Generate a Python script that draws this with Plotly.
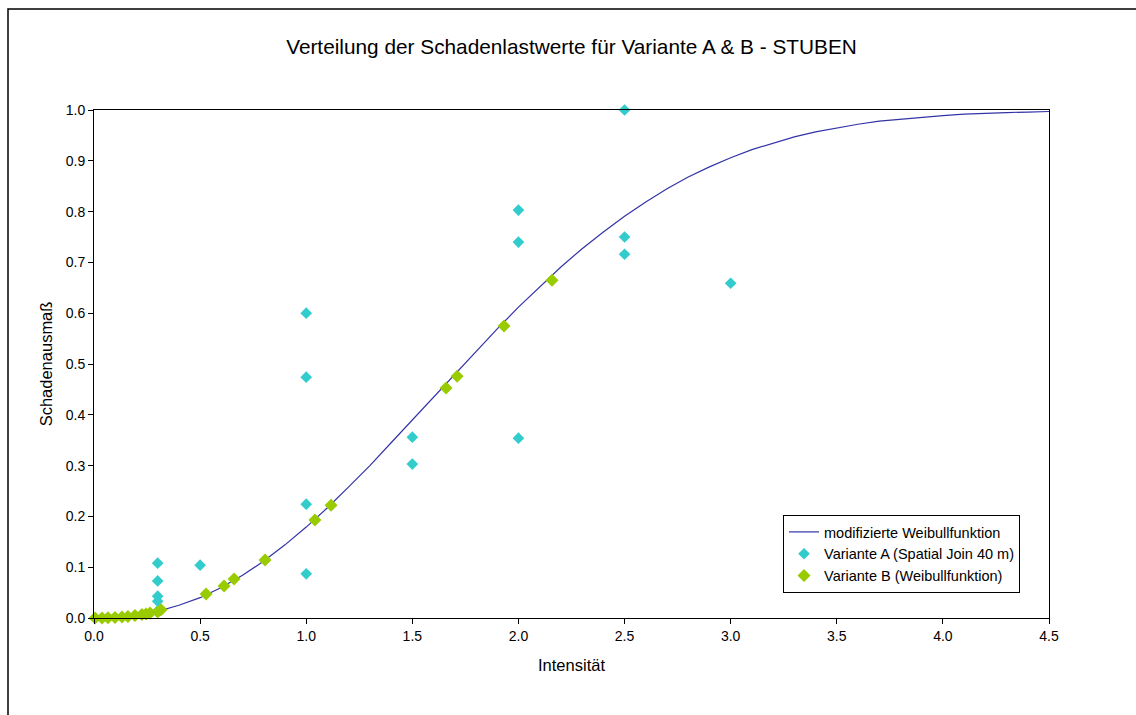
import plotly.graph_objects as go

# --- data ---
curve_x = [0.0, 0.1, 0.2, 0.3, 0.4, 0.5, 0.6, 0.7, 0.8, 0.9, 1.0,
           1.1, 1.2, 1.3, 1.4, 1.5, 1.6, 1.7, 1.8, 1.9, 2.0,
           2.1, 2.2, 2.3, 2.4, 2.5, 2.6, 2.7, 2.8, 2.9, 3.0,
           3.1, 3.2, 3.3, 3.4, 3.5, 3.6, 3.7, 3.8, 3.9, 4.0,
           4.1, 4.2, 4.3, 4.4, 4.5]
curve_y = [0.0, 0.001, 0.005, 0.013, 0.025, 0.040, 0.060, 0.084, 0.112, 0.144, 0.179,
           0.217, 0.258, 0.300, 0.345, 0.390, 0.435, 0.481, 0.526, 0.569, 0.612,
           0.652, 0.691, 0.727, 0.760, 0.791, 0.819, 0.845, 0.868, 0.888, 0.906,
           0.922, 0.935, 0.947, 0.957, 0.965, 0.972, 0.978, 0.982, 0.986, 0.989,
           0.992, 0.994, 0.995, 0.996, 0.997]

a_x = [2.5, 2.0, 2.0, 2.5, 2.5, 3.0, 1.0, 1.0, 1.5, 1.5, 2.0, 1.0, 1.0, 0.5,
       0.3, 0.3, 0.3, 0.3, 0.3]
a_y = [1.0, 0.803, 0.740, 0.750, 0.716, 0.659, 0.600, 0.474, 0.356, 0.303, 0.354,
       0.224, 0.087, 0.104, 0.108, 0.073, 0.043, 0.033, 0.014]

b_x = [2.158, 1.932, 1.711, 1.659, 1.117, 1.041, 0.806, 0.660, 0.613, 0.528,
       0.316, 0.300, 0.264, 0.245, 0.226, 0.193, 0.160, 0.132, 0.099, 0.066,
       0.038, 0.005]
b_y = [0.665, 0.575, 0.476, 0.453, 0.222, 0.193, 0.114, 0.077, 0.063, 0.047,
       0.016, 0.012, 0.010, 0.008, 0.007, 0.005, 0.003, 0.002, 0.001, 0.0004,
       0.0001, 0.0]

x_ticks = [0.0, 0.5, 1.0, 1.5, 2.0, 2.5, 3.0, 3.5, 4.0, 4.5]
y_ticks = [0.0, 0.1, 0.2, 0.3, 0.4, 0.5, 0.6, 0.7, 0.8, 0.9, 1.0]

title_text = "Verteilung der Schadenlastwerte für Variante A & B - STUBEN"
x_title = "Intensität"
y_title = "Schadenausmaß"
names = ["modifizierte Weibullfunktion", "Variante A (Spatial Join 40 m)",
         "Variante B (Weibullfunktion)"]

FONT = "Arial, Liberation Sans, sans-serif"

fig = go.Figure()
fig.add_trace(go.Scatter(x=curve_x, y=curve_y, mode="lines", name=names[0],
                         line=dict(color="#3333A8", width=1.2),
                         legendgroup="g1", cliponaxis=False))
fig.add_trace(go.Scatter(x=a_x, y=a_y, mode="markers", name=names[1],
                         marker=dict(symbol="diamond", size=9, color="#33CCCC"),
                         legendgroup="g2", cliponaxis=False))
fig.add_trace(go.Scatter(x=b_x, y=b_y, mode="markers", name=names[2],
                         marker=dict(symbol="diamond", size=10, color="#99CC00"),
                         legendgroup="g3", cliponaxis=False))

axis_common = dict(showline=True, linecolor="black", linewidth=1, mirror=True,
                   ticks="outside", ticklen=5, tickcolor="black", tickwidth=1,
                   showgrid=False, zeroline=False, tickformat=".1f",
                   tickfont=dict(family=FONT, size=14, color="black"))

fig.update_layout(
    width=1136, height=715,
    margin=dict(l=94, r=87, t=110, b=97),
    paper_bgcolor="white", plot_bgcolor="white",
    font=dict(family=FONT, size=14, color="black"),
    title=dict(text=title_text, x=0.5, xref="paper", y=1 - 47 / 715,
               yref="container", xanchor="center", yanchor="middle",
               font=dict(family=FONT, size=20.8, color="black")),
    xaxis=dict(range=[0, 4.5], tickvals=x_ticks,
               title=dict(text=x_title, standoff=16,
                          font=dict(family=FONT, size=16.5, color="black")),
               **axis_common),
    yaxis=dict(range=[0, 1.0], tickvals=y_ticks,
               title=dict(text=y_title, standoff=8,
                          font=dict(family=FONT, size=16.5, color="black")),
               **axis_common),
    legend=dict(x=0.7215, y=0.2028, xanchor="left", yanchor="top",
                bgcolor="white", bordercolor="black", borderwidth=1,
                font=dict(family=FONT, size=14.5, color="black"),
                tracegroupgap=6, traceorder="normal"),
    shapes=[dict(type="rect", xref="paper", yref="paper",
                 x0=(8 - 94) / 955, x1=(1145 - 94) / 955,
                 y0=(618 - 725) / 508, y1=(618 - 9) / 508,
                 line=dict(color="black", width=1.5), layer="below")],
)

fig.write_html("out.html")
